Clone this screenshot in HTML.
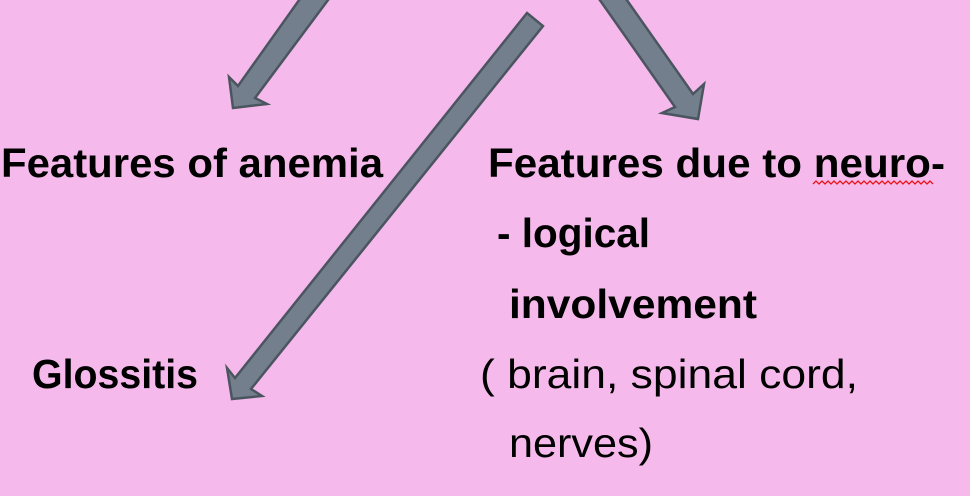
<!DOCTYPE html>
<html>
<head>
<meta charset="utf-8">
<style>
  html, body { margin:0; padding:0; }
  body { width:970px; height:496px; overflow:hidden; background:#f5baeb; }
  svg { display:block; }
  .b { font-family:"Liberation Sans", sans-serif; font-weight:bold; font-size:41px; fill:#000; }
  .r { font-family:"Liberation Sans", sans-serif; font-weight:normal; font-size:41px; fill:#000; }
</style>
</head>
<body>
<svg width="970" height="496" viewBox="0 0 970 496" xmlns="http://www.w3.org/2000/svg">
  <rect x="0" y="0" width="970" height="496" fill="#f5baeb"/>
  <g fill="#737f8d" stroke="#4b5560" stroke-width="2.5" stroke-linejoin="miter">
    <!-- arrow 1 (top-left) -->
    <polygon points="302,-4 238,86 229,77 233,108 267,104 255,98 331,-4"/>
    <!-- arrow 2 (top-right) -->
    <polygon points="597,-4 675,107 662,113 698,119 704,84 693,94 624,-4"/>
    <!-- arrow 3 (long) -->
    <polygon points="527,13 543,26 251,389 262,396 232,399 227,368 235,378"/>
  </g>

  <text class="b" x="1" y="177" textLength="382" lengthAdjust="spacingAndGlyphs">Features of anemia</text>
  <text class="b" x="32" y="388" textLength="166" lengthAdjust="spacingAndGlyphs">Glossitis</text>

  <text class="b" x="488" y="177" textLength="457" lengthAdjust="spacingAndGlyphs">Features due to neuro-</text>
  <text class="b" x="497" y="247" textLength="153" lengthAdjust="spacingAndGlyphs">- logical</text>
  <text class="b" x="509" y="318" textLength="248" lengthAdjust="spacingAndGlyphs">involvement</text>
  <text class="r" x="480" y="388" textLength="378" lengthAdjust="spacingAndGlyphs">( brain, spinal cord,</text>
  <text class="r" x="509" y="457" textLength="144" lengthAdjust="spacingAndGlyphs">nerves)</text>

  <polyline fill="none" stroke="#e8141c" stroke-width="1.3"
    points="813,184 816,181 819,184 822,181 825,184 828,181 831,184 834,181 837,184 840,181 843,184 846,181 849,184 852,181 855,184 858,181 861,184 864,181 867,184 870,181 873,184 876,181 879,184 882,181 885,184 888,181 891,184 894,181 897,184 900,181 903,184 906,181 909,184 912,181 915,184 918,181 921,184 924,181 927,184 930,181 933,184"/>
</svg>
</body>
</html>
